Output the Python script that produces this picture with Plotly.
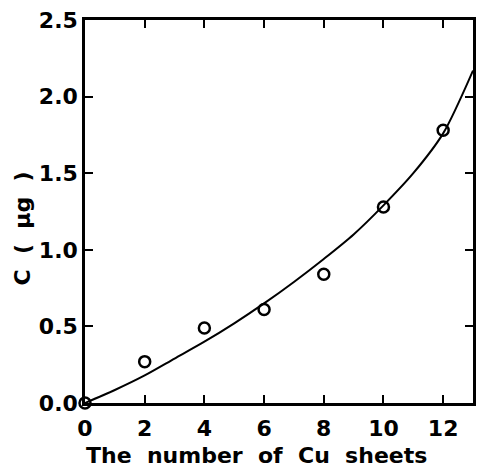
import plotly.graph_objects as go

# measured data points
sheets = [0, 2, 4, 6, 8, 10, 12]
c_ug = [0.0, 0.27, 0.49, 0.61, 0.84, 1.28, 1.78]

# fitted curve
curve_x = [0, 1, 2, 3, 4, 5, 6, 7, 8, 9, 10, 11, 12, 13]
curve_y = [0.0, 0.085, 0.18, 0.29, 0.40, 0.52, 0.65, 0.79, 0.94, 1.10, 1.29, 1.50, 1.76, 2.17]

x_ticks = [0, 2, 4, 6, 8, 10, 12]
y_ticks = [0.0, 0.5, 1.0, 1.5, 2.0, 2.5]

FONT = "DejaVu Sans"

fig = go.Figure()
fig.add_trace(go.Scatter(x=curve_x, y=curve_y, mode="lines",
                         line=dict(color="black", width=2, shape="spline", smoothing=0.8),
                         showlegend=False, hoverinfo="skip"))
fig.add_trace(go.Scatter(x=sheets, y=c_ug, mode="markers",
                         marker=dict(symbol="circle-open", size=11, color="black",
                                     line=dict(width=2.5, color="black")),
                         cliponaxis=False, showlegend=False))

axis_common = dict(showgrid=False, zeroline=False, showline=True, linecolor="black",
                   linewidth=2.5, mirror="ticks", ticks="inside", ticklen=8,
                   tickwidth=2, tickcolor="black",
                   tickfont=dict(family=FONT, size=22, color="black", weight="bold"))

fig.update_xaxes(range=[0, 13], tickvals=x_ticks, ticktext=[str(v) for v in x_ticks],
                 ticklabelstandoff=4, **axis_common)
fig.update_yaxes(range=[0, 2.5], tickvals=y_ticks, ticktext=[f"{v:.1f}" for v in y_ticks],
                 **axis_common)

fig.add_annotation(text="The\u00a0 number\u00a0 of\u00a0 Cu\u00a0 sheets", xref="paper", yref="paper",
                   x=(258 - 85) / (476 - 85), y=-(455 - 403) / (403 - 20),
                   xanchor="center", yanchor="middle", showarrow=False,
                   font=dict(family=FONT, size=22, color="black", weight="bold"))
fig.add_annotation(text="C\u00a0 (\u00a0 μg\u00a0 )", xref="paper", yref="paper",
                   x=-(85 - 22) / (476 - 85), y=(403 - 228) / (403 - 20),
                   xanchor="center", yanchor="middle", textangle=-90, showarrow=False,
                   font=dict(family=FONT, size=22, color="black", weight="bold"))

fig.update_layout(width=478, height=472, margin=dict(l=85, r=2, t=20, b=69),
                  plot_bgcolor="white", paper_bgcolor="white")

fig.write_html("out.html")
